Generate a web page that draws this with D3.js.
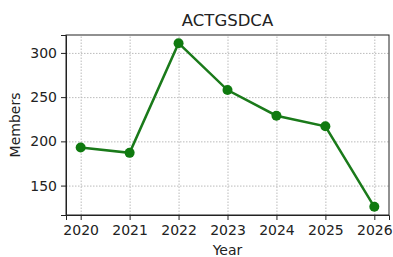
<!DOCTYPE html>
<meta charset="utf-8">
<style>
body { margin: 0; background: #fff; }
text { font-family: "DejaVu Sans", sans-serif; fill: #222; }
.axis path, .axis line { stroke: #222; }
.grid line { stroke: #bbb; stroke-dasharray: 1.5,1.5; }
.grid path { display: none; }
</style>
<svg width="393" height="257"></svg>
<script src="https://d3js.org/d3.v7.min.js"></script>
<script>

var years = [2020, 2021, 2022, 2023, 2024, 2025, 2026];
var members = [193, 187, 311, 258, 229, 217, 126];
var yTicks = [150, 200, 250, 300];
var title = "ACTGSDCA";

var svg = d3.select("svg"),
    margin = {top: 35, right: 4, bottom: 42, left: 66},
    width = svg.attr("width") - margin.left - margin.right,
    height = svg.attr("height") - margin.top - margin.bottom;

var x = d3.scaleLinear()
    .domain([2019.7, 2026.3])
    .range([0, width]);

var y = d3.scaleLinear()
    .domain([116.75, 320.25])
    .range([height, 0]);

var g = svg.append("g")
    .attr("transform", "translate(" + margin.left + "," + margin.top + ")");

// grid lines
g.append("g")
    .attr("class", "grid")
    .attr("transform", "translate(0," + height + ")")
    .call(d3.axisBottom(x).tickValues(years).tickSize(-height).tickFormat(""));

g.append("g")
    .attr("class", "grid")
    .call(d3.axisLeft(y).tickValues(yTicks).tickSize(-width).tickFormat(""));

// axes
g.append("g")
    .attr("class", "axis")
    .attr("transform", "translate(0," + height + ")")
    .call(d3.axisBottom(x).tickValues(years).tickFormat(d3.format("d")).tickSizeOuter(0).tickSize(5).tickPadding(5))
    .selectAll("text").style("font-size", "14px");

g.append("g")
    .attr("class", "axis")
    .call(d3.axisLeft(y).tickValues(yTicks).tickSizeOuter(0).tickSize(5).tickPadding(4))
    .selectAll("text").style("font-size", "14px");

// frame
g.append("rect")
    .attr("width", width)
    .attr("height", height)
    .attr("fill", "none")
    .attr("stroke", "#222");

var line = d3.line()
    .x(function(d, i) { return x(years[i]); })
    .y(function(d) { return y(d); });

g.append("path")
    .datum(members)
    .attr("fill", "none")
    .attr("stroke", "#1a7a1a")
    .attr("stroke-width", 2.5)
    .attr("d", line);

g.selectAll(".dot")
    .data(members)
  .enter().append("circle")
    .attr("class", "dot")
    .attr("cx", function(d, i) { return x(years[i]); })
    .attr("cy", function(d) { return y(d); })
    .attr("r", 5)
    .attr("fill", "#0f7a0f");

svg.append("text")
    .attr("x", margin.left + width / 2)
    .attr("y", 26)
    .attr("text-anchor", "middle")
    .style("font-size", "16.5px")
    .text(title);

svg.append("text")
    .attr("x", margin.left + width / 2)
    .attr("y", 255)
    .attr("text-anchor", "middle")
    .style("font-size", "14px")
    .text("Year");

svg.append("text")
    .attr("transform", "translate(20," + (margin.top + height / 2) + ") rotate(-90)")
    .attr("text-anchor", "middle")
    .style("font-size", "14px")
    .text("Members");

</script>
